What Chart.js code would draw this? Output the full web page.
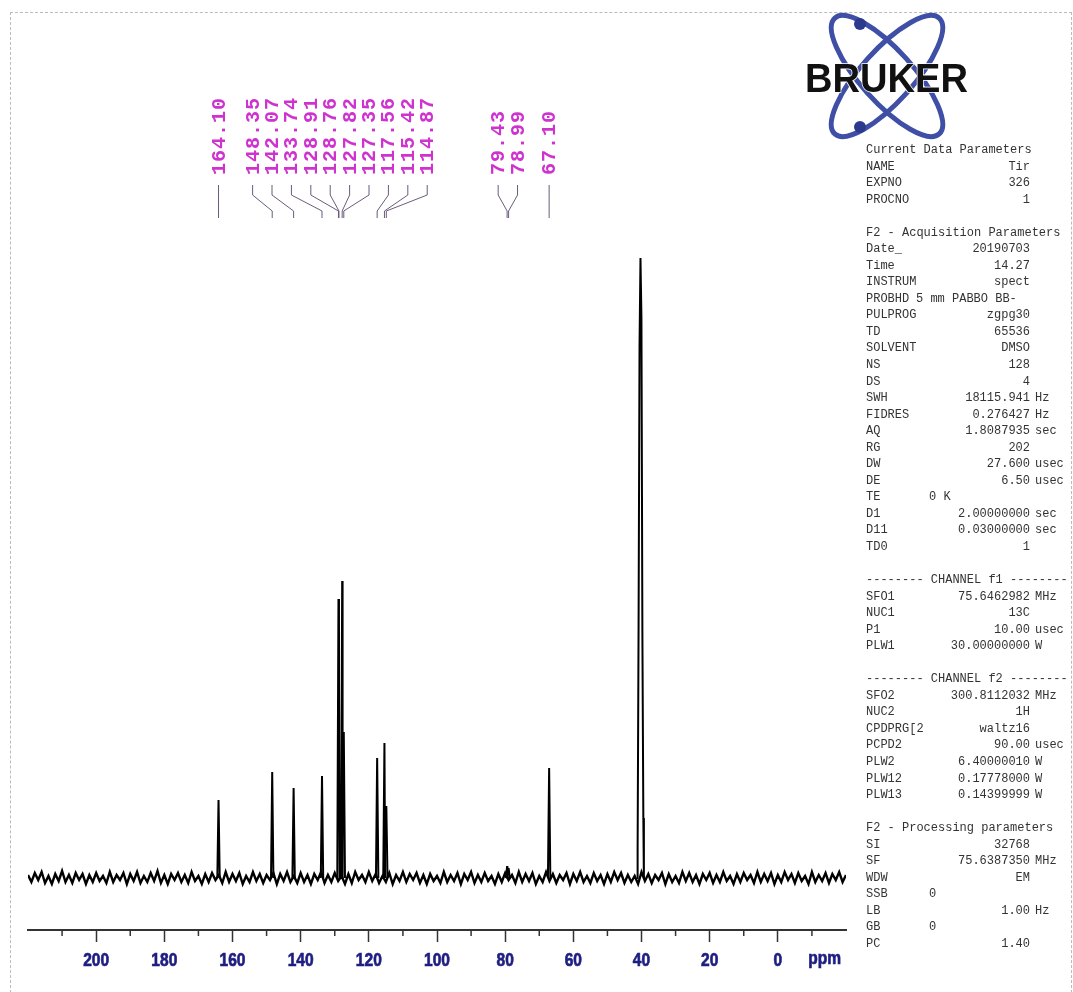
<!DOCTYPE html>
<html>
<head>
<meta charset="utf-8">
<script src="https://cdn.jsdelivr.net/npm/chart.js@4.4.1/dist/chart.umd.min.js"></script>
<style>
html, body { margin: 0; padding: 0; background: #fff; }
#page { position: relative; width: 1073px; height: 992px; overflow: hidden; }
#frame { position: absolute; left: 10px; top: 12px; width: 1060px; height: 1000px;
         border-top: 1px dashed #bbb; border-left: 1px dashed #bbb; border-right: 1px dashed #bbb; }
#spec { position: absolute; left: 0; top: 0; }
#logo { position: absolute; left: 795px; top: 10px; }
#params { position: absolute; left: 866px; top: 0; width: 207px; font: 12px 'Liberation Mono', monospace; color: #333; }
.row { position: absolute; left: 0; height: 16px; line-height: 16px; white-space: pre; }
.row span { position: absolute; top: 0; white-space: pre; }
</style>
</head>
<body>
<div id="page">
  <div id="frame"></div>
  <canvas id="spec" width="1073" height="992"></canvas>
  <svg id="logo" width="200" height="140" viewBox="0 0 200 140">
    <g fill="none" stroke="#3f4fa6" stroke-width="5">
      <ellipse cx="92" cy="66" rx="78" ry="26" transform="rotate(48 92 66)"/>
      <ellipse cx="92" cy="66" rx="78" ry="26" transform="rotate(-48 92 66)"/>
    </g>
    <circle cx="65" cy="14" r="6" fill="#2c3a8e"/>
    <circle cx="65" cy="117" r="6" fill="#2c3a8e"/>
    <text x="10" y="82" font-family="Liberation Sans, Arial, sans-serif" font-weight="bold" font-size="40"
          textLength="163" lengthAdjust="spacingAndGlyphs" fill="#111" stroke="#fff" stroke-width="1.5"
          paint-order="stroke">BRUKER</text>
  </svg>
  <div id="params"></div>
</div>
<script>
// labelled 13C peaks (ppm) and their heights above the baseline
const peakPpm = [164.10, 148.35, 142.07, 133.74, 128.91, 128.76, 127.82, 127.35, 117.56, 115.42, 114.87, 79.43, 78.99, 67.10];
const peakHeight = [78, 106, 90, 102, 279, 207, 297, 146, 120, 135, 72, 12, 10, 110];

// DMSO-d6 septet (not labelled)
const solventPpm = [41.14, 40.86, 40.58, 40.30, 40.02, 39.74, 39.46];
const solventHeight = [30, 250, 530, 620, 560, 245, 60];

// baseline noise, one value per ppm from 220 down to -20
const noiseStart = 220;
const noiseStep = 1;
const noise = [
  3,-4,5,-2,6,-5,2,-6,4,-3,7,-4,3,-5,5,-2,4,-6,3,-4,
  5,-3,2,-5,6,-4,3,-2,5,-6,4,-3,6,-5,2,-4,5,-3,7,-5,
  3,-6,4,-2,5,-4,3,-5,6,-3,2,-6,4,-4,5,-2,3,-5,6,-4,
  4,-3,5,-6,2,-4,6,-3,4,-5,3,-2,5,-6,4,-3,6,-4,2,-5,
  5,-4,3,-6,4,-2,6,-5,3,-4,5,-3,2,-6,4,-5,6,-2,3,-4,
  6,-3,4,-5,2,-4,5,-6,3,-3,6,-4,4,-2,5,-5,3,-6,4,-3,
  2,-5,6,-4,3,-3,5,-6,4,-2,6,-5,3,-4,5,-3,2,-6,4,-4,
  5,-2,3,-5,6,-4,4,-3,5,-6,2,-4,6,-3,4,-5,3,-2,5,-6,
  4,-3,6,-4,2,-5,5,-3,3,-6,4,-4,6,-2,5,-5,3,-4,2,-6,
  6,-3,4,-5,3,-2,5,-6,4,-4,2,-5,6,-3,5,-4,3,-6,4,-2,
  5,-5,3,-4,6,-3,2,-6,4,-4,5,-2,3,-5,6,-4,4,-3,5,-6,
  3,-4,6,-2,4,-5,5,-3,2,-6,6,-4,3,-3,5,-5,4,-2,6,-4,
  3
];

const majorTicks = [0, 20, 40, 60, 80, 100, 120, 140, 160, 180, 200];
const minorTicks = [-10, 10, 30, 50, 70, 90, 110, 130, 150, 170, 190, 210];

// parameter listing on the right
const paramRows = [
  ['Current Data Parameters'],
  ['NAME', 'Tir'], ['EXPNO', '326'], ['PROCNO', '1'],
  [],
  ['F2 - Acquisition Parameters'],
  ['Date_', '20190703'], ['Time', '14.27'], ['INSTRUM', 'spect'],
  ['PROBHD', '5 mm PABBO BB-', '', 'wide'], ['PULPROG', 'zgpg30'], ['TD', '65536'],
  ['SOLVENT', 'DMSO'], ['NS', '128'], ['DS', '4'],
  ['SWH', '18115.941', 'Hz'], ['FIDRES', '0.276427', 'Hz'], ['AQ', '1.8087935', 'sec'],
  ['RG', '202'], ['DW', '27.600', 'usec'], ['DE', '6.50', 'usec'],
  ['TE', '0 K', '', 'mid'], ['D1', '2.00000000', 'sec'], ['D11', '0.03000000', 'sec'], ['TD0', '1'],
  [],
  ['-------- CHANNEL f1 --------'],
  ['SFO1', '75.6462982', 'MHz'], ['NUC1', '13C'], ['P1', '10.00', 'usec'], ['PLW1', '30.00000000', 'W'],
  [],
  ['-------- CHANNEL f2 --------'],
  ['SFO2', '300.8112032', 'MHz'], ['NUC2', '1H'], ['CPDPRG[2', 'waltz16'], ['PCPD2', '90.00', 'usec'],
  ['PLW2', '6.40000010', 'W'], ['PLW12', '0.17778000', 'W'], ['PLW13', '0.14399999', 'W'],
  [],
  ['F2 - Processing parameters'],
  ['SI', '32768'], ['SF', '75.6387350', 'MHz'], ['WDW', 'EM'], ['SSB', '0', '', 'mid'],
  ['LB', '1.00', 'Hz'], ['GB', '0', '', 'mid'], ['PC', '1.40']
];

// build the parameter panel
const panel = document.getElementById('params');
paramRows.forEach((r, i) => {
  if (!r.length) return;
  const row = document.createElement('div');
  row.className = 'row';
  row.style.top = (142 + i * 16.54) + 'px';
  row.style.width = '207px';
  const name = document.createElement('span');
  name.textContent = r[0];
  name.style.left = '0px';
  row.appendChild(name);
  if (r.length > 1) {
    const val = document.createElement('span');
    val.textContent = r[1];
    if (r[3] === 'mid') {
      val.style.left = '63px';
    } else if (r[3] === 'wide') {
      val.style.left = '50px';
    } else {
      val.style.left = '0px';
      val.style.width = '164px';
      val.style.textAlign = 'right';
    }
    row.appendChild(val);
    if (r[2]) {
      const unit = document.createElement('span');
      unit.textContent = r[2];
      unit.style.left = '169px';
      row.appendChild(unit);
    }
  }
  panel.appendChild(row);
});

// baseline trace
const noisePoints = noise.map((v, i) => ({ x: noiseStart - i * noiseStep, y: v }));

// peak trace: narrow sticks, broken apart by gaps
const peakPoints = [];
peakPpm.forEach((p, i) => {
  peakPoints.push({ x: p + 0.35, y: 0 }, { x: p, y: peakHeight[i] }, { x: p - 0.35, y: 0 }, { x: p - 0.4, y: null });
});
peakPoints.push({ x: 41.3, y: 0 });
solventPpm.forEach((p, i) => peakPoints.push({ x: p, y: solventHeight[i] }));
peakPoints.push({ x: 39.3, y: 0 });
peakPoints.sort((a, b) => b.x - a.x);

const axisFont = "'Liberation Sans', Arial, sans-serif";

// spread peak labels apart like TopSpin does, grouping crowded ones
function spreadLabels(px, gap) {
  const groups = px.map(p => ({ n: 1, sum: p }));
  let merged = true;
  while (merged) {
    merged = false;
    for (let i = 0; i < groups.length - 1; i++) {
      const a = groups[i], b = groups[i + 1];
      const aEnd = a.sum / a.n + (a.n - 1) * gap / 2;
      const bStart = b.sum / b.n - (b.n - 1) * gap / 2;
      if (bStart - aEnd < gap) {
        a.n += b.n; a.sum += b.sum;
        groups.splice(i + 1, 1);
        merged = true;
        break;
      }
    }
  }
  const out = [];
  groups.forEach(g => {
    const start = g.sum / g.n - (g.n - 1) * gap / 2;
    for (let k = 0; k < g.n; k++) out.push(start + k * gap);
  });
  return out;
}

// narrow bold text, squeezed horizontally like the TopSpin axis font
function narrowText(ctx, text, x, y, align) {
  ctx.save();
  ctx.translate(x, y);
  ctx.scale(0.84, 1);
  ctx.textAlign = align;
  ctx.strokeText(text, 0, 0);
  ctx.fillText(text, 0, 0);
  ctx.restore();
}

const nmrDecor = {
  id: 'nmrDecor',
  afterDraw(chart) {
    const ctx = chart.ctx;
    const xs = chart.scales.x;
    const area = chart.chartArea;
    ctx.save();

    // minor ticks
    ctx.strokeStyle = '#333';
    ctx.lineWidth = 1.5;
    minorTicks.forEach(v => {
      const x = xs.getPixelForValue(v);
      ctx.beginPath();
      ctx.moveTo(x, area.bottom);
      ctx.lineTo(x, area.bottom + 6);
      ctx.stroke();
    });

    // tick labels and unit
    ctx.font = 'bold 18.5px ' + axisFont;
    ctx.fillStyle = '#1e1e82';
    ctx.strokeStyle = '#1e1e82';
    ctx.lineWidth = 0.7;
    ctx.textBaseline = 'alphabetic';
    majorTicks.forEach(v => narrowText(ctx, String(v), xs.getPixelForValue(v), area.bottom + 36, 'center'));
    narrowText(ctx, 'ppm', area.right - 5, area.bottom + 34, 'right');

    // peak labels and leader lines
    const px = peakPpm.map(p => xs.getPixelForValue(p));
    const lx = spreadLabels(px, 19.4);
    ctx.strokeStyle = '#6b5b7b';
    ctx.lineWidth = 1;
    px.forEach((p, i) => {
      ctx.beginPath();
      ctx.moveTo(lx[i], 185);
      ctx.lineTo(lx[i], 195);
      ctx.lineTo(p, 211);
      ctx.lineTo(p, 218);
      ctx.stroke();
    });
    ctx.font = "bold 20px 'Liberation Mono', monospace";
    ctx.letterSpacing = '1px';
    ctx.fillStyle = '#cf33cf';
    ctx.textAlign = 'left';
    ctx.textBaseline = 'middle';
    peakPpm.forEach((p, i) => {
      ctx.save();
      ctx.translate(lx[i], 175);
      ctx.rotate(-Math.PI / 2);
      ctx.fillText(p.toFixed(2), 0, 1);
      ctx.restore();
    });
    ctx.restore();
  }
};

new Chart(document.getElementById('spec'), {
  type: 'line',
  data: {
    datasets: [{
      data: noisePoints,
      borderColor: '#000',
      borderWidth: 2.4,
      pointRadius: 0,
      tension: 0,
      fill: false
    }, {
      data: peakPoints,
      borderColor: '#000',
      borderWidth: 2,
      pointRadius: 0,
      tension: 0,
      spanGaps: false,
      fill: false
    }]
  },
  options: {
    responsive: false,
    animation: false,
    devicePixelRatio: 1,
    layout: { padding: { left: 28, right: 227, top: 240, bottom: 50 } },
    plugins: { legend: { display: false }, tooltip: { enabled: false } },
    scales: {
      x: {
        type: 'linear',
        reverse: true,
        min: -20,
        max: 220,
        afterBuildTicks: s => { s.ticks = majorTicks.map(v => ({ value: v })); },
        ticks: { display: false },
        grid: { drawOnChartArea: false, drawTicks: true, tickLength: 12, tickColor: '#333', tickWidth: 1.5 },
        border: { display: true, color: '#333', width: 2 }
      },
      y: { display: false, min: -52, max: 638 }
    }
  },
  plugins: [nmrDecor]
});
</script>
</body>
</html>
